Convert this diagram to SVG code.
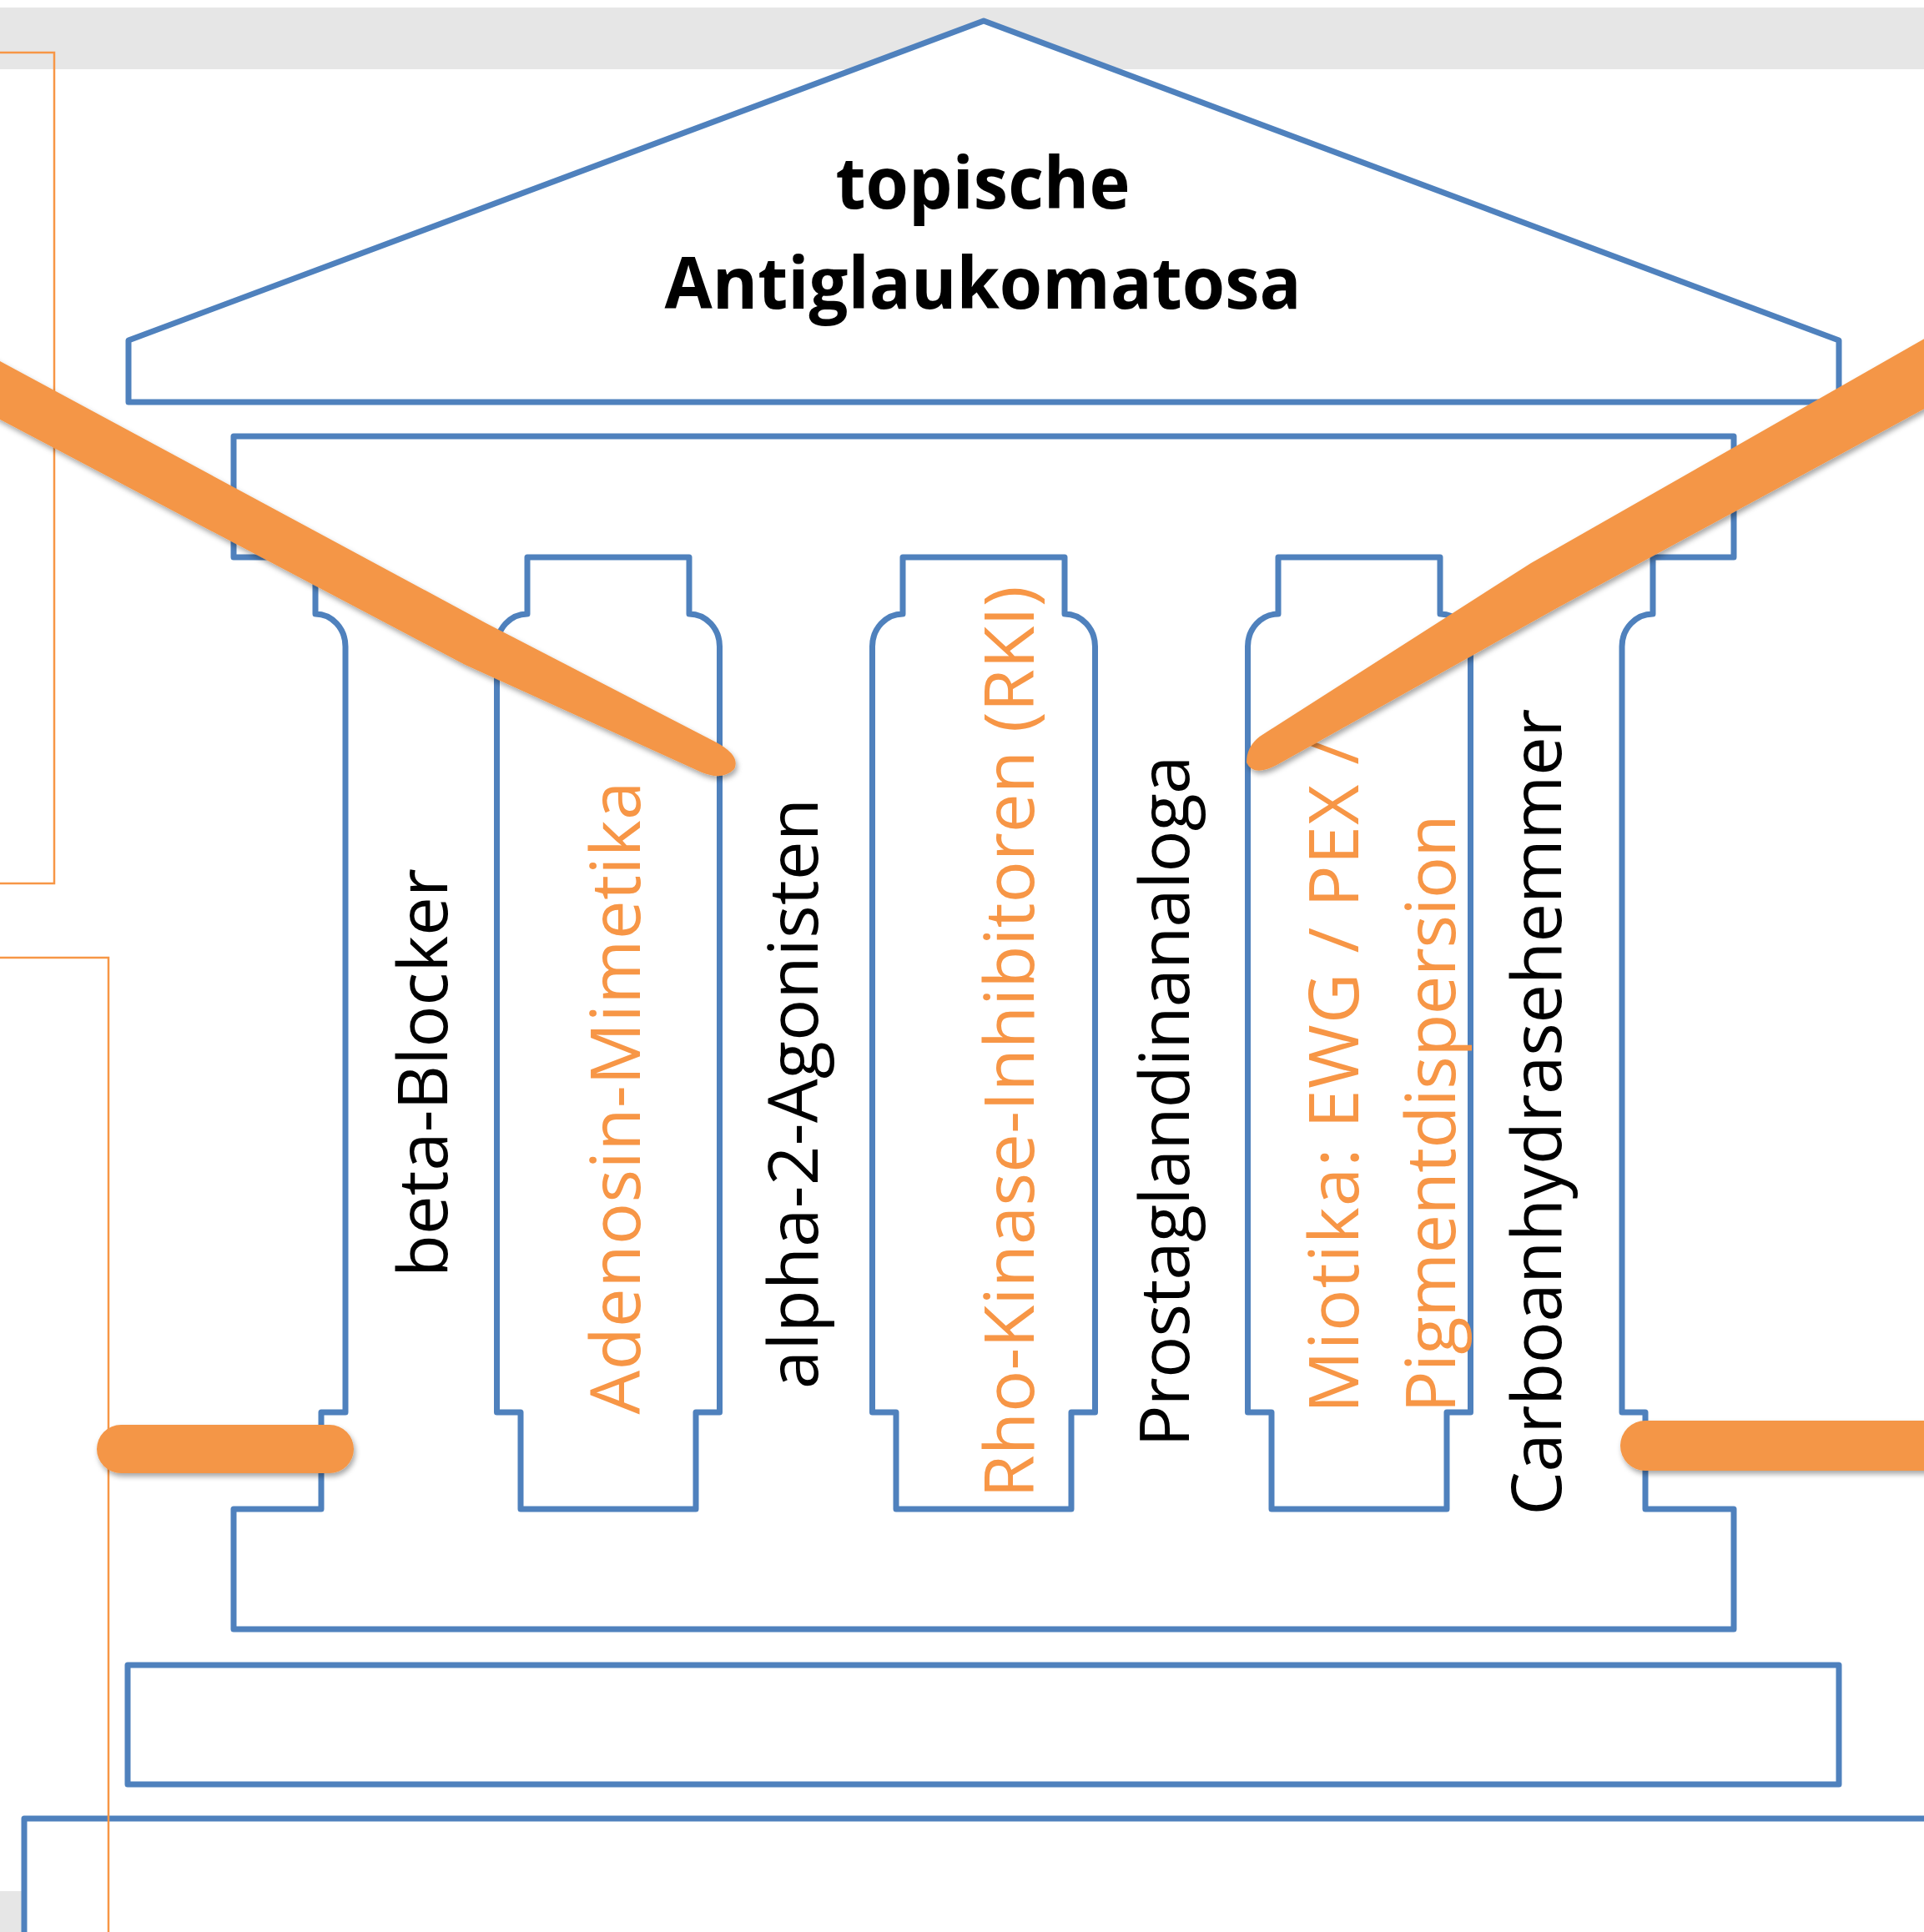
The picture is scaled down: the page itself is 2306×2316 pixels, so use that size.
<svg xmlns="http://www.w3.org/2000/svg" width="2306" height="2316" viewBox="0 0 2306 2316">
<style>
.bl{fill:#fff;stroke:#4F81BD;stroke-width:7;stroke-linejoin:round}
.open{fill:none}
.thin{fill:none;stroke:#F79646;stroke-width:2.5}
.lab{font-family:"Open Sans","Liberation Sans",sans-serif;font-size:83px;text-anchor:middle}
.k{fill:#000}
.o{fill:#F79646}
.ttl{font-family:"Open Sans","Liberation Sans",sans-serif;font-size:86px;font-weight:bold;text-anchor:middle;fill:#000}
.brush{fill:none;stroke:#F49646;stroke-linecap:round;stroke-linejoin:round}
.bfill{fill:#F49646}
</style>
<defs>
<filter id="sh" x="-10%" y="-10%" width="120%" height="130%">
<feDropShadow dx="2" dy="4" stdDeviation="3" flood-color="#000" flood-opacity="0.35"/>
</filter>
</defs>
<rect x="0" y="0" width="2306" height="2316" fill="#fff"/>
<g id="background">
<rect x="0" y="9" width="2306" height="74" fill="#E6E6E6"/>
<rect x="0" y="2267" width="27" height="49" fill="#E6E6E6"/>
</g>
<g id="roof">
<polygon class="bl" points="1179,25 2204,408 2204,482 154,482 154,408"/>
<text class="ttl" x="1178" y="250" textLength="353" lengthAdjust="spacingAndGlyphs">topische</text>
<text class="ttl" x="1178" y="370" textLength="763" lengthAdjust="spacingAndGlyphs">Antiglaukomatosa</text>
</g>
<g id="temple-body">
<path class="bl" d="M280,523 H2078 V668 H1981 V736 A37 39 0 0 0 1944,775 V1693 H1972 V1809 H2078 V1953 H280 V1809 H385 V1693 H414 V775 A36 39 0 0 0 378,736 V668 H280 Z"/>
</g>
<g id="column-1">
<path class="bl" d="M632,668 H826 V736 A36.5 39 0 0 1 862.5,775 V1693 H834 V1809 H624 V1693 H595.5 V775 A36.5 39 0 0 1 632,736 Z"/>
</g>
<g id="column-2">
<path class="bl" d="M1082,668 H1276 V736 A36.5 39 0 0 1 1312.5,775 V1693 H1284 V1809 H1074 V1693 H1045.5 V775 A36.5 39 0 0 1 1082,736 Z"/>
</g>
<g id="column-3">
<path class="bl" d="M1532,668 H1726 V736 A36.5 39 0 0 1 1762.5,775 V1693 H1734 V1809 H1524 V1693 H1495.5 V775 A36.5 39 0 0 1 1532,736 Z"/>
</g>
<g id="plinth">
<rect class="bl" x="153" y="1996" width="2051" height="143"/>
</g>
<g id="ground">
<path class="bl open" d="M29,2330 V2180 H2330"/>
</g>
<g id="frames">
<path class="thin" d="M0,63 H65 V1059 H0"/>
<path class="thin" d="M0,1148 H130 V2316"/>
</g>
<g id="label-beta-blocker"><text class="lab k" transform="translate(536,1286) rotate(-90)" textLength="490" lengthAdjust="spacing">beta-Blocker</text></g>
<g id="label-adenosin"><text class="lab o" transform="translate(767,1316) rotate(-90)" textLength="759" lengthAdjust="spacing">Adenosin-Mimetika</text></g>
<g id="label-alpha"><text class="lab k" transform="translate(980,1311) rotate(-90)" textLength="708" lengthAdjust="spacing">alpha-2-Agonisten</text></g>
<g id="label-rki"><text class="lab o" transform="translate(1239,1249) rotate(-90)" textLength="1093" lengthAdjust="spacing">Rho-Kinase-Inhibitoren (RKI)</text></g>
<g id="label-prostaglandin"><text class="lab k" transform="translate(1425,1320) rotate(-90)" textLength="829" lengthAdjust="spacing">Prostaglandinanaloga</text></g>
<g id="label-miotika">
<text class="lab o" transform="translate(1628,1290) rotate(-90)" textLength="808" lengthAdjust="spacing">Miotika: EWG / PEX /</text>
<text class="lab o" transform="translate(1744,1335) rotate(-90)" textLength="717" lengthAdjust="spacing">Pigmentdispersion</text>
</g>
<g id="label-carbo"><text class="lab k" transform="translate(1871,1333) rotate(-90)" textLength="967" lengthAdjust="spacing">Carboanhydrasehemmer</text></g>
<g id="highlight-strokes" filter="url(#sh)">
<path class="bfill" d="M-15.7,424.5 L582.9,747.2 L858.7,890 Q888,906 880,922 Q866,936 841.3,926 L557.1,796.8 L-44.3,479.5 Z"/>
<path class="bfill" d="M1509.7,882.9 L1835,675 L2324,396 L2358,462 L1866,729 L1530.3,917.1 Q1502,932 1494,914 Q1494,895 1509.7,882.9 Z"/>
<path class="brush" stroke-width="58" d="M145,1737 L395,1737"/>
<path class="brush" stroke-width="60" d="M1972,1733 L2340,1733"/>
</g>
</svg>
